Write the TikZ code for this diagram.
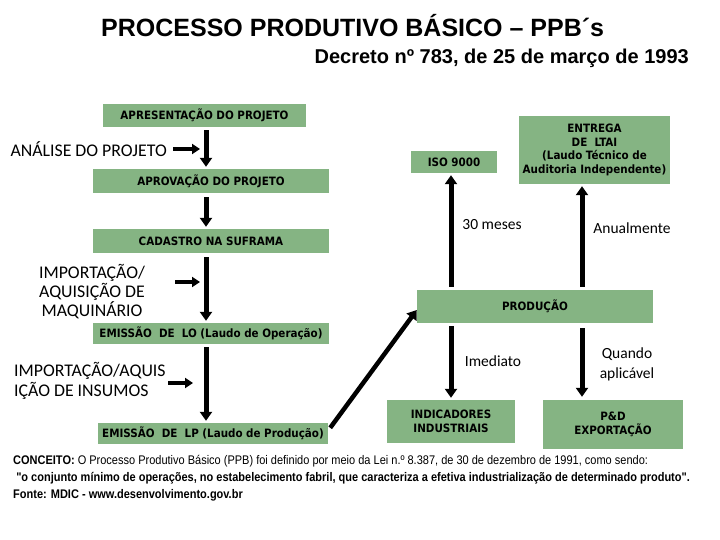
\documentclass[tikz,border=0pt]{standalone}
\usepackage{fontspec}
\setmainfont{Liberation Sans}
\newfontfamily\boxfont{DejaVu Sans Condensed}
\newfontfamily\narrowfont[FakeStretch=0.88]{Liberation Sans}
\newfontfamily\calfont{Carlito}
\usetikzlibrary{arrows.meta}
\definecolor{boxgreen}{RGB}{133,180,131}
\tikzset{
  gbox/.style={fill=boxgreen, draw=none, inner sep=1pt, align=center,
    font=\boxfont\bfseries\fontsize{11.5}{13.5}\selectfont, text=black},
  bigarrow/.style={line width=5pt, -{Triangle[length=9pt,width=12pt]}},
  smallarrow/.style={line width=4.5pt, -{Triangle[length=8pt,width=10pt]}},
  lbl/.style={font=\calfont\fontsize{17.8}{19}\selectfont, inner sep=0pt},
  slbl/.style={font=\calfont\fontsize{15.5}{20}\selectfont, inner sep=0pt},
}
\begin{document}
\begin{tikzpicture}[x=1pt,y=-1pt]
\useasboundingbox[fill=white] (0,0) rectangle (720,540);
% titles
\node[font=\bfseries\fontsize{25}{28}\selectfont, inner sep=0pt, anchor=base west] (title) at (101,37) {PROCESSO PRODUTIVO BÁSICO – PPB´s};
\node[font=\bfseries\fontsize{20}{24}\selectfont, inner sep=0pt, anchor=base east] (sub) at (689,64) {Decreto nº 783, de 25 de março de 1993};
% left column boxes
\node[gbox, minimum width=203pt, minimum height=23pt] (apres) at (204.5,115.5) {APRESENTAÇÃO DO PROJETO};
\node[gbox, minimum width=236pt, minimum height=24pt] (aprov) at (211,181) {APROVAÇÃO DO PROJETO};
\node[gbox, minimum width=236pt, minimum height=24pt] (cad) at (211,241) {CADASTRO NA SUFRAMA};
\node[gbox, minimum width=236pt, minimum height=21pt] (lo) at (211,333.5) {EMISSÃO\ \ DE\ \ LO (Laudo de Operação)};
\node[gbox, minimum width=230pt, minimum height=21pt] (lp) at (213,433.5) {EMISSÃO\ \ DE\ \ LP (Laudo de Produção)};
% right boxes
\node[gbox, minimum width=236pt, minimum height=33pt] (prod) at (535,306.5) {PRODUÇÃO};
\node[gbox, minimum width=86pt, minimum height=22pt] (iso) at (454,162) {ISO 9000};
\node[gbox, minimum width=151pt, minimum height=68pt] (ent) at (594.5,150) {ENTREGA\\DE\ \ LTAI\\(Laudo Técnico de\\Auditoria Independente)};
\node[gbox, minimum width=128pt, minimum height=43pt] (ind) at (451,421.5) {INDICADORES\\INDUSTRIAIS};
\node[gbox, minimum width=140pt, minimum height=49pt] (ped) at (613,424.5) {P\&D\\EXPORTAÇÃO};
% columns
\coordinate (spine) at (206,0);
\coordinate (colA) at (451,0);
\coordinate (colB) at (582,0);
% side labels
\node[lbl, anchor=east] (anal) at (167,149) {ANÁLISE DO PROJETO};
\node[lbl, align=center] (maq) at (92,292) {IMPORTAÇÃO/\\AQUISIÇÃO DE\\MAQUINÁRIO};
\node[lbl, align=left, anchor=west] (ins) at (14,381) {IMPORTAÇÃO/AQUIS\\[1pt]IÇÃO DE INSUMOS};
\node[slbl] (m30) at (492,225) {30 meses};
\node[slbl] (anu) at (632,228) {Anualmente};
\node[slbl] (ime) at (493,361) {Imediato};
\node[slbl, align=center] (qua) at (627,364) {Quando\\aplicável};
% main spine arrows
\draw[bigarrow, shorten <=3pt, shorten >=2pt] (apres.south -| spine) -- (aprov.north -| spine);
\draw[bigarrow, shorten <=4pt, shorten >=2pt] (aprov.south -| spine) -- (cad.north -| spine);
\draw[bigarrow, shorten <=4pt, shorten >=2pt] (cad.south -| spine) -- (lo.north -| spine);
\draw[bigarrow, shorten <=3pt, shorten >=2pt] (lo.south -| spine) -- (lp.north -| spine);
% side arrows
\coordinate (a1) at (200,149);
\coordinate (a2) at (200,282);
\coordinate (a3) at (193,383);
\draw[smallarrow] (anal.east) ++(6pt,0) -- (a1);
\draw[smallarrow] (175,282) -- (a2);
\draw[smallarrow] (168,383) -- (a3);
% diagonal
\draw[bigarrow, line width=4.5pt] (lp.north east) ++(2pt,-5pt) -- (prod.west |- 0,310);
% up arrows
\draw[bigarrow, shorten <=3pt, shorten >=2pt] (prod.north -| colA) -- (iso.south -| colA);
\draw[bigarrow, shorten <=3pt, shorten >=2pt] (prod.north -| colB) -- (ent.south -| colB);
% down arrows
\draw[bigarrow, shorten <=3pt, shorten >=2pt] (prod.south -| colA) -- (ind.north -| colA);
\draw[bigarrow, shorten <=5pt, shorten >=3pt] (prod.south -| colB) -- (ped.north -| colB);
% bottom text
\node[font=\narrowfont\fontsize{12.5}{17}\selectfont, anchor=north west, align=left, inner sep=0pt] (conc) at (13,455) {\textbf{CONCEITO:} O Processo Produtivo Básico (PPB) foi definido por meio da Lei n.º 8.387, de 30 de dezembro de 1991, como sendo:\\
\textbf{\ "o conjunto mínimo de operações, no estabelecimento fabril, que caracteriza a efetiva industrialização de determinado produto".}\\
\textbf{Fonte: MDIC - www.desenvolvimento.gov.br}};
\end{tikzpicture}
\end{document}
